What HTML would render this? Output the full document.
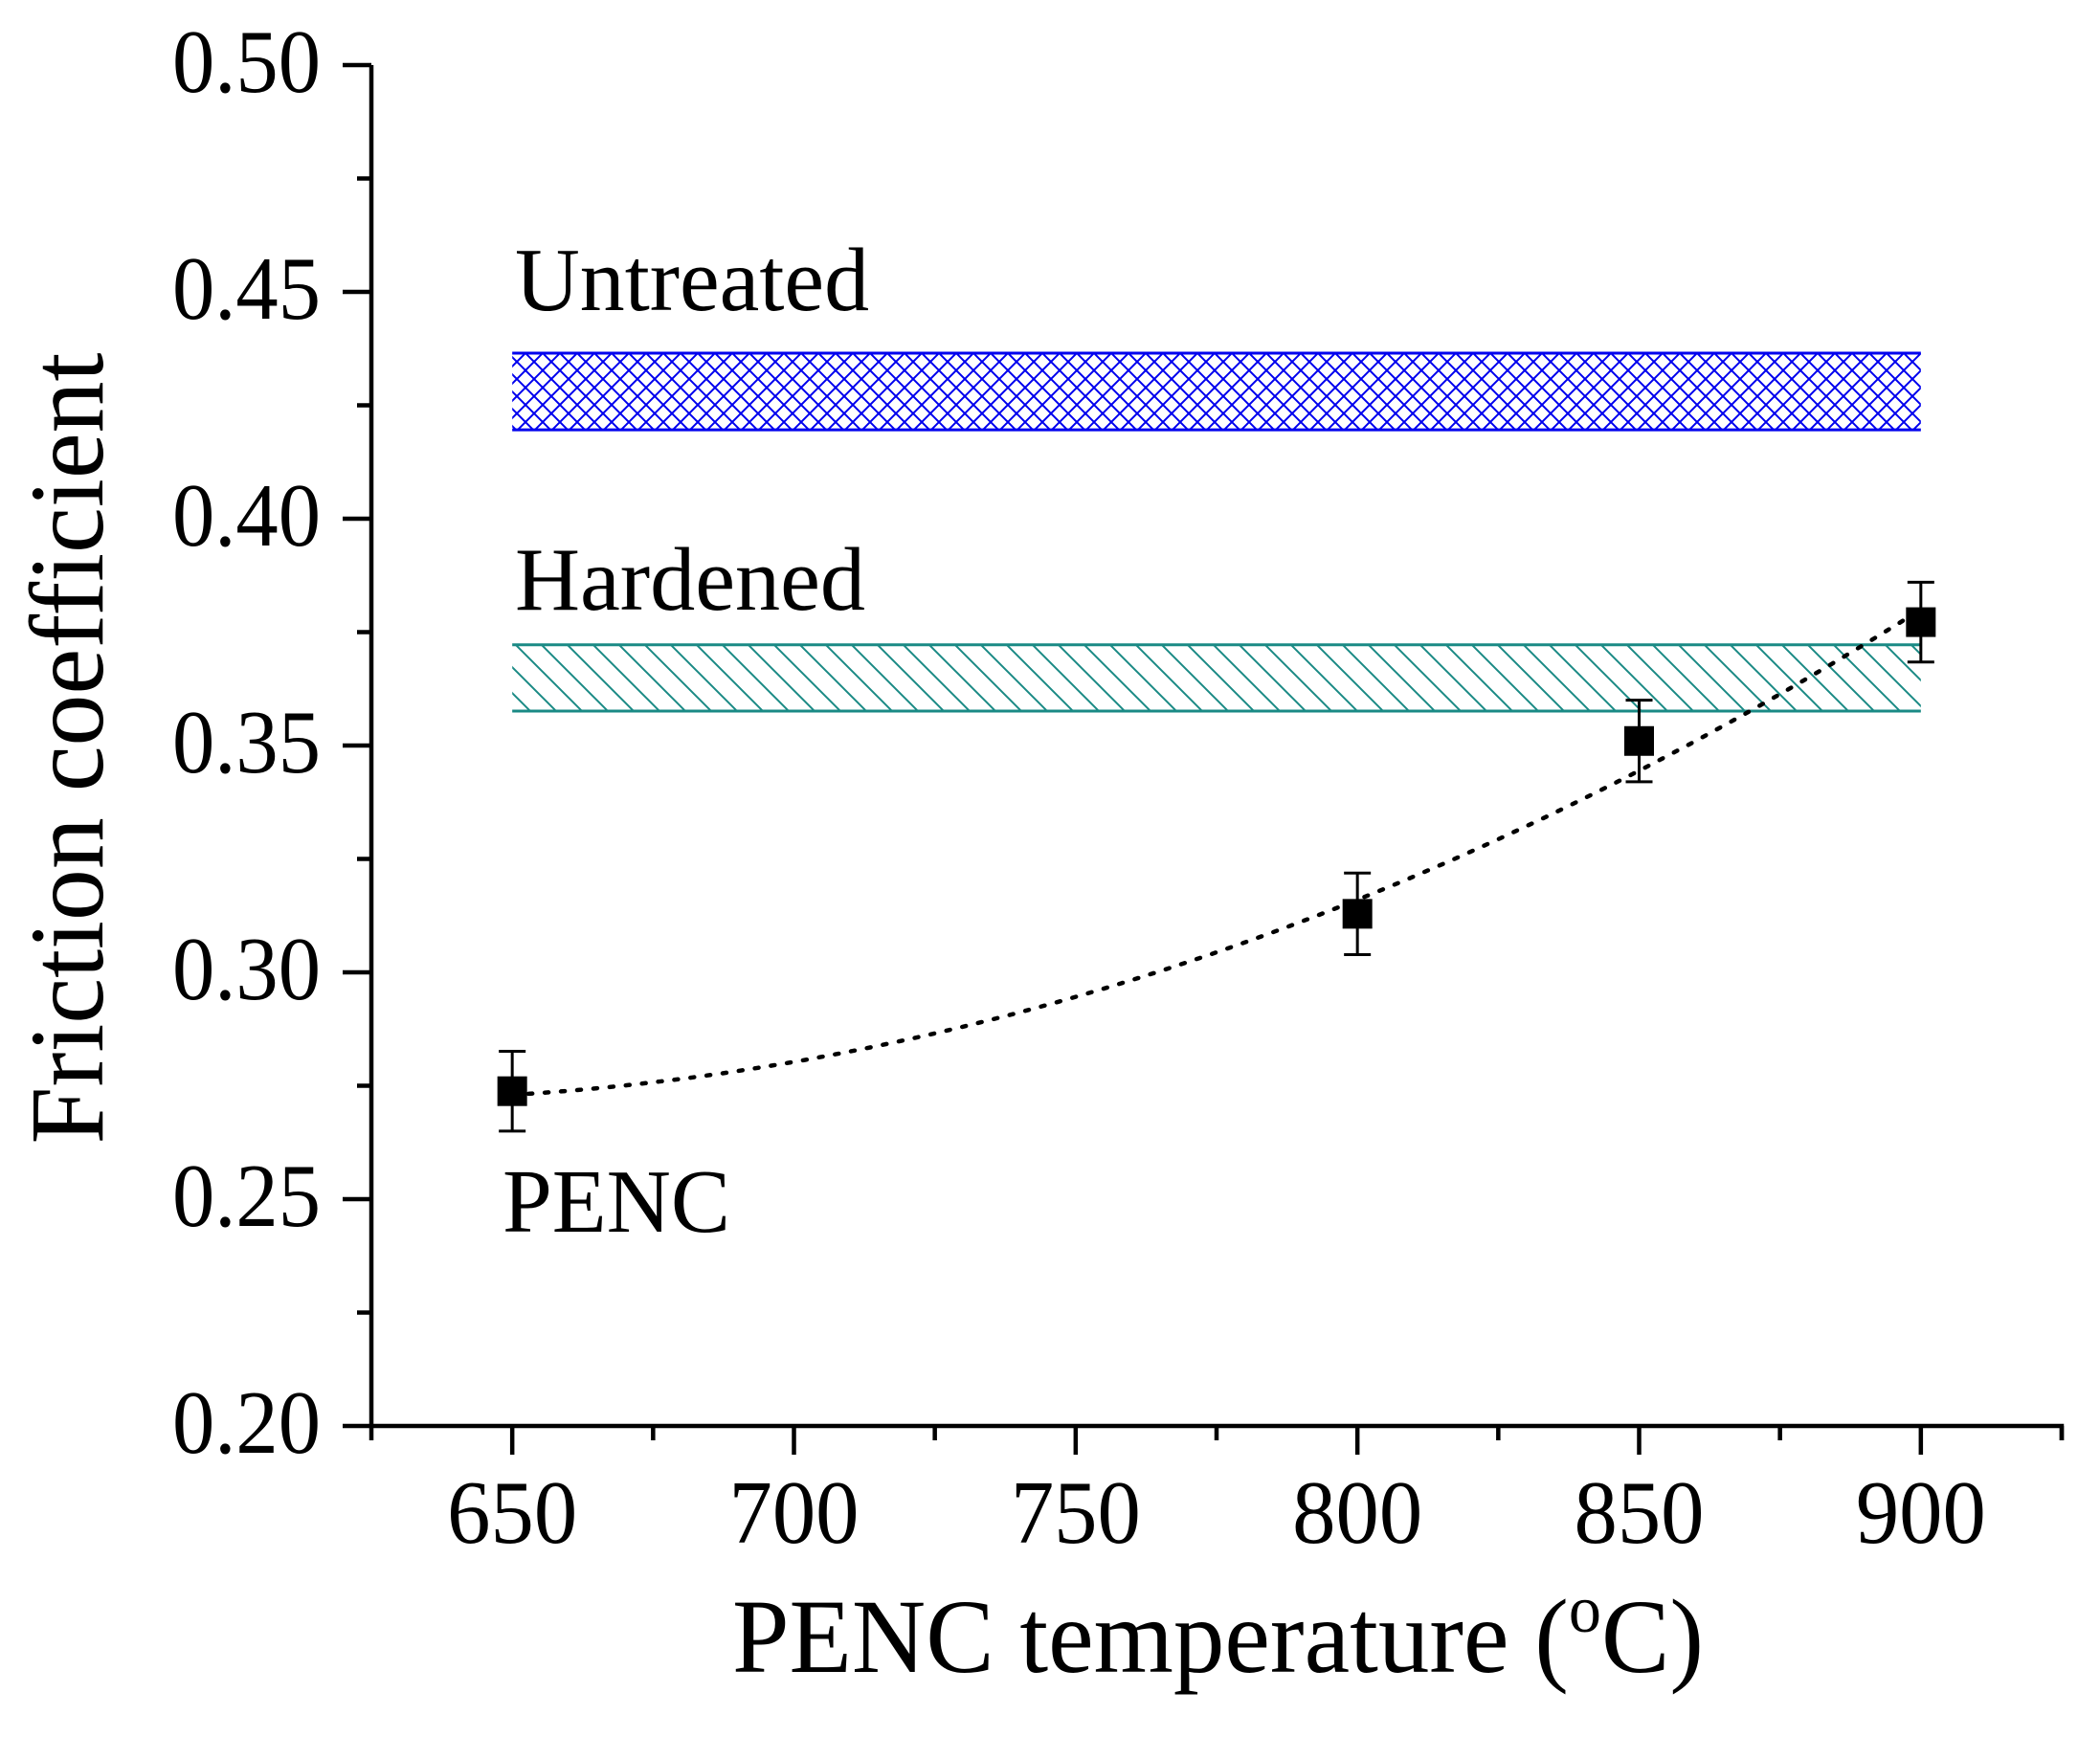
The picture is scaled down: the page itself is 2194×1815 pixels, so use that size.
<!DOCTYPE html>
<html><head><meta charset="utf-8"><style>
html,body{margin:0;padding:0;background:#fff;}
svg{display:block;font-family:"Liberation Serif",serif;}
</style></head><body>
<svg id="chart" width="2194" height="1815" viewBox="0 0 2194 1815" xmlns="http://www.w3.org/2000/svg">
<defs>
<pattern id="cross" patternUnits="userSpaceOnUse" width="18" height="18">
<path d="M0,0 L18,18 M18,0 L0,18" stroke="#0000ee" stroke-width="2"/>
</pattern>
<pattern id="diag" patternUnits="userSpaceOnUse" width="27" height="27">
<path d="M-1,-1 L28,28 M-14,13 L14,41 M13,-14 L41,14" stroke="#1a8a85" stroke-width="2"/>
</pattern>
</defs>
<g id="plot"></g>
</svg>
<script>
const temps = [650, 800, 850, 900];
const friction = [0.2738, 0.3129, 0.351, 0.3772];
const errors = [0.0088, 0.009, 0.009, 0.0088];
const fitCoef = [0.273, 0.0000747, 0.000001413];
const bandLabels = ["Untreated", "Hardened"];
const bandLow = [0.4196, 0.3576];
const bandHigh = [0.4365, 0.3722];
const bandFrom = [650, 650];
const bandTo = [900, 900];
const xTicks = [650, 700, 750, 800, 850, 900];
const yTicks = [0.20, 0.25, 0.30, 0.35, 0.40, 0.45, 0.50];

const X0 = 388, X1 = 2154, Y0 = 1490, Y1 = 68;
const xMin = 625, xMax = 925, yMin = 0.2, yMax = 0.5;
const sx = v => X0 + (v - xMin) / (xMax - xMin) * (X1 - X0);
const sy = v => Y0 - (v - yMin) / (yMax - yMin) * (Y0 - Y1);
const NS = "http://www.w3.org/2000/svg";
const g = document.getElementById("plot");
function mk(tag, attrs, parent) {
  const e = document.createElementNS(NS, tag);
  for (const k in attrs) e.setAttribute(k, attrs[k]);
  (parent || g).appendChild(e);
  return e;
}

// bands
const fills = ["url(#cross)", "url(#diag)"];
const strokes = ["#0000ee", "#1a8a85"];
const labelY = [324, 637];
const labelLen = [370, 366];
for (let i = 0; i < bandLow.length; i++) {
  const xa = sx(bandFrom[i]), xb = sx(bandTo[i]), ya = sy(bandHigh[i]), yb = sy(bandLow[i]);
  const r = mk("rect", {x: xa, y: ya, width: xb - xa, height: yb - ya, fill: fills[i]});
  
  
  const l1 = mk("line", {x1: xa, x2: xb, y1: ya, y2: ya, stroke: strokes[i], "stroke-width": 3});
  
  
  const l2 = mk("line", {x1: xa, x2: xb, y1: yb, y2: yb, stroke: strokes[i], "stroke-width": 3});
  
  
  const t = mk("text", {x: 538, y: labelY[i], "font-size": 94, textLength: labelLen[i], lengthAdjust: "spacingAndGlyphs"});
  t.textContent = bandLabels[i];
  
  
}

// fit curve
let d = "";
for (let x = temps[0]; x <= temps[temps.length - 1]; x += 2) {
  const u = x - temps[0];
  const y = fitCoef[0] + fitCoef[1] * u + fitCoef[2] * u * u;
  d += (d ? " L" : "M") + sx(x).toFixed(1) + "," + sy(y).toFixed(1);
}
const fit = mk("path", {d: d, fill: "none", stroke: "#000", "stroke-width": 4.5, "stroke-dasharray": "4 13", "stroke-linecap": "round"});



// points
for (let i = 0; i < temps.length; i++) {
  const cx = sx(temps[i]), cy = sy(friction[i]);
  const yt = sy(friction[i] + errors[i]), yb = sy(friction[i] - errors[i]);
  const eb = mk("path", {d: `M${cx},${yt} V${yb} M${cx-14},${yt} H${cx+14} M${cx-14},${yb} H${cx+14}`, stroke: "#000", "stroke-width": 3, fill: "none"});
  
  
  const m = mk("rect", {x: cx - 15.5, y: cy - 15.5, width: 31, height: 31, fill: "#000"});
  
  
}

// axes
const ax = mk("path", {d: `M${X0},${Y1} V${Y0} H${X1} V${Y0+15}`, stroke: "#000", "stroke-width": 4.5, fill: "none"});


let td = "";
for (let v = xMin; v <= xMax; v += 25) {
  const len = (v % 50 === 0) ? 30 : 15;
  td += `M${sx(v)},${Y0} V${Y0 + len} `;
}
for (let k = 0; k <= 12; k++) {
  const v = yMin + k * 0.025;
  const len = (k % 2 === 0) ? 30 : 15;
  td += `M${X0},${sy(v)} H${X0 - len} `;
}
const ticks = mk("path", {d: td, stroke: "#000", "stroke-width": 4.5});



for (const v of xTicks) {
  const t = mk("text", {x: sx(v), y: 1612, "font-size": 94, "text-anchor": "middle", textLength: 136, lengthAdjust: "spacingAndGlyphs"});
  t.textContent = String(v);
  
  
}
for (const v of yTicks) {
  const t = mk("text", {x: 335, y: sy(v) + 28, "font-size": 94, "text-anchor": "end", textLength: 155, lengthAdjust: "spacingAndGlyphs"});
  t.textContent = v.toFixed(2);
  
  
}

const penc = mk("text", {x: 525, y: 1287, "font-size": 94, textLength: 238, lengthAdjust: "spacingAndGlyphs"});
penc.textContent = "PENC";



const xt = mk("text", {x: 765, y: 1747, "font-size": 110, textLength: 1015, lengthAdjust: "spacingAndGlyphs"});
xt.innerHTML = 'PENC temperature (<tspan font-size="70" dy="-42">o</tspan><tspan dy="42">C)</tspan>';



const yt = mk("text", {x: 0, y: 0, "font-size": 110, "text-anchor": "middle", textLength: 827, lengthAdjust: "spacingAndGlyphs", transform: "translate(107,782) rotate(-90)"});
yt.textContent = "Friction coefficient";


</script>
</body></html>
